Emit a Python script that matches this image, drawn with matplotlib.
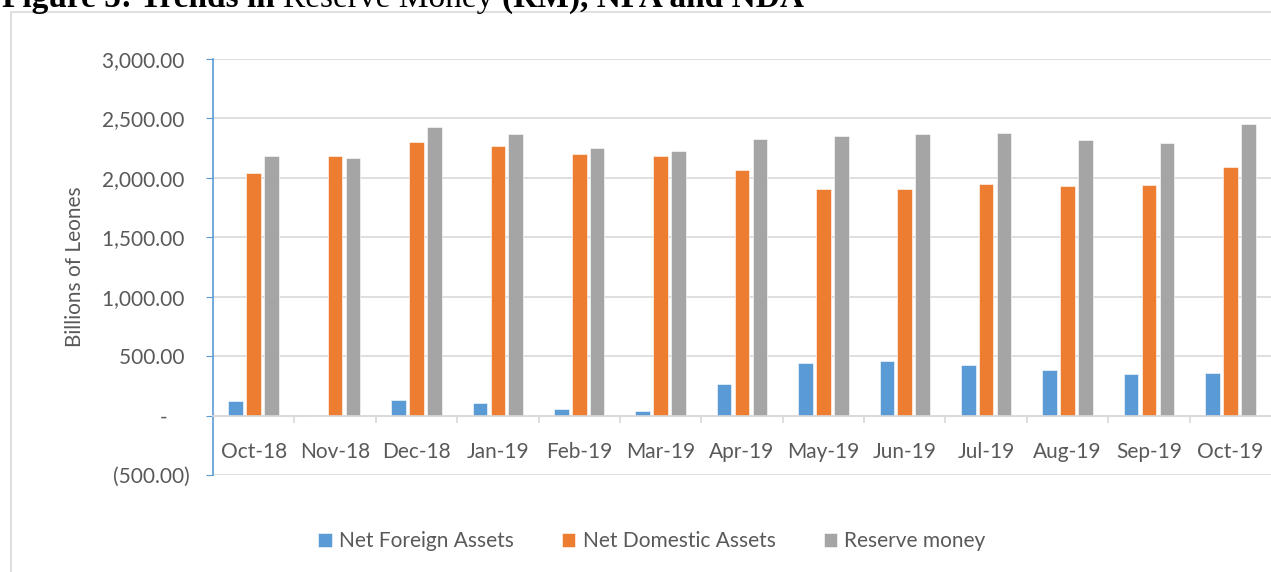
import matplotlib.pyplot as plt
import matplotlib.patches as mpatches
import numpy as np

months = ["Oct-18", "Nov-18", "Dec-18", "Jan-19", "Feb-19", "Mar-19", "Apr-19",
          "May-19", "Jun-19", "Jul-19", "Aug-19", "Sep-19", "Oct-19"]
nfa = [126, 0, 130, 105, 55, 35, 265, 440, 460, 425, 385, 350, 355]
nda = [2042, 2180, 2300, 2265, 2200, 2185, 2065, 1910, 1905, 1950, 1930, 1940, 2092]
rm = [2180, 2170, 2430, 2370, 2255, 2225, 2330, 2350, 2365, 2375, 2315, 2290, 2450]
yticks = [-500, 0, 500, 1000, 1500, 2000, 2500, 3000]
ylabels = ["(500.00)", "-    ", "500.00 ", "1,000.00 ", "1,500.00 ", "2,000.00 ", "2,500.00 ", "3,000.00 "]
title_parts = [("Figure 5: Trends in ", "bold"), ("Reserve Money ", "normal"),
               ("(RM), NFA and NDA", "bold")]

blue, orange, gray = "#5B9BD5", "#ED7D31", "#A5A5A5"
txt = "#595959"
grid = "#D9D9D9"
fs = 15
plt.rcParams["font.family"] = ["Lato", "DejaVu Sans"]

W, H = 1271, 572
fig = plt.figure(figsize=(W / 100, H / 100), dpi=100)

# chart border and title (cut off at the top, as in the source page)
fig.patches.append(mpatches.Rectangle((11 / W, -0.1), 1.2, 1.1 - 12 / H, transform=fig.transFigure,
                                      fill=False, edgecolor=grid, linewidth=1.2))
renderer = fig.canvas.get_renderer()
xpos = 2
for part, wt in title_parts:
    t = fig.text(xpos / W, 1 - 7 / H, part, family="Liberation Serif", weight=wt,
                 fontsize=24, va="baseline", ha="left")
    xpos += t.get_window_extent(renderer).width

ax = fig.add_axes([213 / W, (H - 475) / H, 1 - 213 / W, (475 - 59) / H])
x = np.arange(len(months))
bw, off = 0.18, 0.22
ax.bar(x - off, nfa, bw, color=blue, edgecolor="white", linewidth=0.4, label="Net Foreign Assets", zorder=3)
ax.bar(x, nda, bw, color=orange, edgecolor="white", linewidth=0.4, label="Net Domestic Assets", zorder=3)
ax.bar(x + off, rm, bw, color=gray, edgecolor="white", linewidth=0.4, label="Reserve money", zorder=3)

ax.set_xlim(-0.5, len(months) - 0.5)
ax.set_ylim(-500, 3000)
ax.set_yticks(yticks)
ax.set_yticklabels(ylabels)
ax.tick_params(axis="y", direction="out", length=5, color=blue, labelcolor=txt, labelsize=fs, pad=12)
ax.yaxis.grid(True, color=grid, linewidth=1.2, zorder=0)

ax.set_xticks(x)
ax.set_xticklabels(months)
ax.set_xticks(np.arange(0.5, len(months) - 0.5), minor=True)
ax.tick_params(axis="x", which="major", length=0, labelcolor=txt, labelsize=fs, pad=19)
ax.tick_params(axis="x", which="minor", direction="out", length=5, color=grid, width=1.2)

for s in ["top", "right"]:
    ax.spines[s].set_visible(False)
ax.spines["left"].set_color(blue)
ax.spines["left"].set_linewidth(1.2)
ax.spines["bottom"].set_position(("data", 0))
ax.spines["bottom"].set_color(grid)
ax.spines["bottom"].set_linewidth(1.2)
ax.spines["bottom"].set_zorder(4)

ax.set_ylabel("Billions of Leones", color=txt, fontsize=fs, labelpad=12)

fig.legend(loc="center", bbox_to_anchor=(652 / W, (H - 541) / H), ncol=3, frameon=False,
           fontsize=fs, labelcolor=txt, handlelength=0.65, handleheight=0.65,
           handletextpad=0.35, columnspacing=2.3)

fig.savefig("out.png", dpi=100)
